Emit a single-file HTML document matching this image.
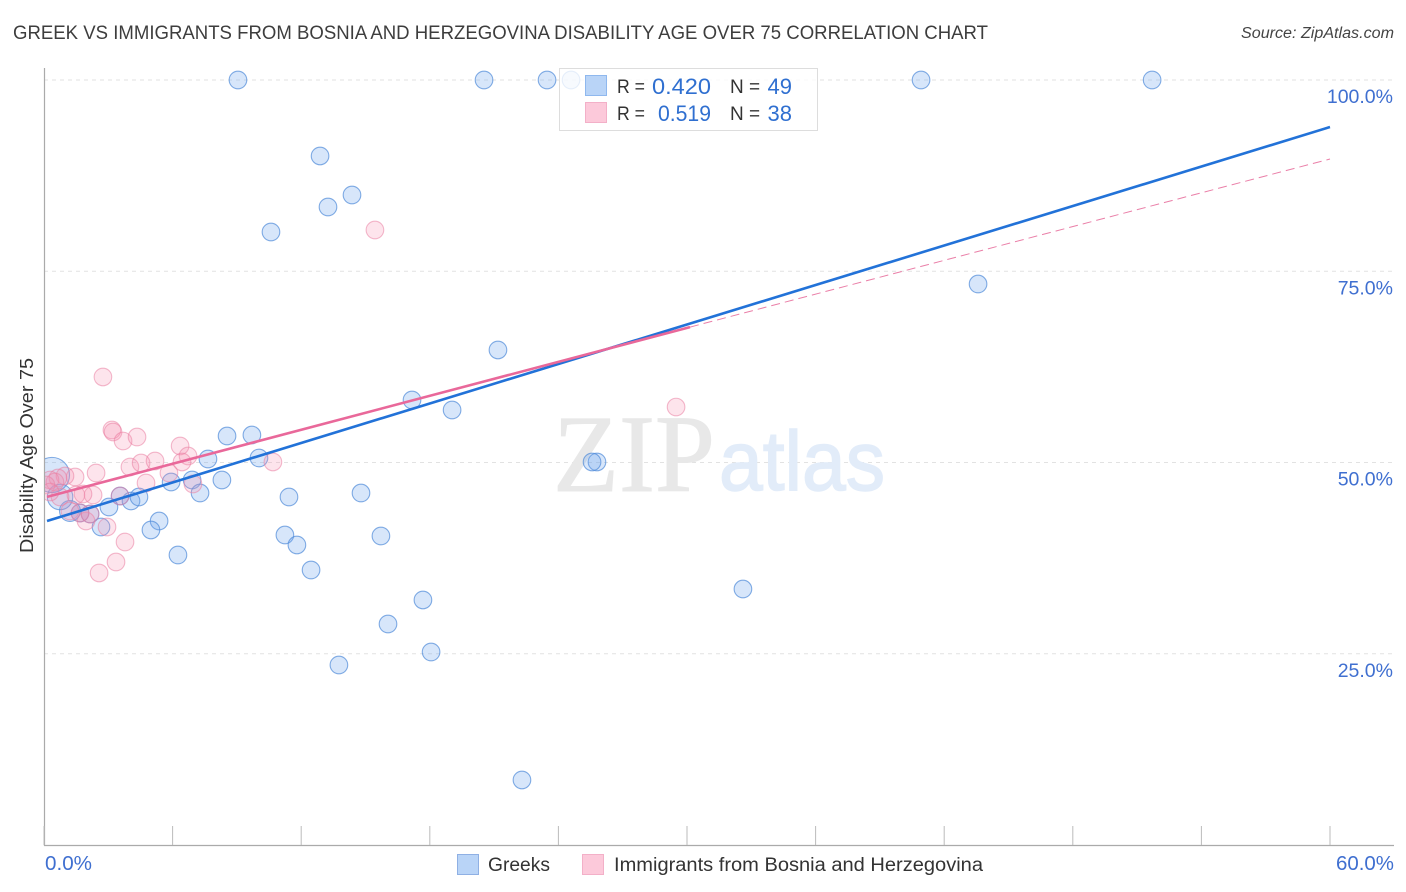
<!DOCTYPE html>
<html>
<head>
<meta charset="utf-8">
<style>
html,body{margin:0;padding:0;background:#fff;width:1406px;height:892px;overflow:hidden}
svg{display:block;font-family:"Liberation Sans",sans-serif}
</style>
</head>
<body>
<svg id="chart" width="1406" height="892" viewBox="0 0 1406 892" xmlns="http://www.w3.org/2000/svg">
  <defs>
    <clipPath id="plot-clip"><rect x="45" y="60" width="1349" height="786"/></clipPath>
  </defs>
  <text x="13" y="39" font-size="19.5" fill="#3d3d3d" textLength="975" lengthAdjust="spacingAndGlyphs">GREEK VS IMMIGRANTS FROM BOSNIA AND HERZEGOVINA DISABILITY AGE OVER 75 CORRELATION CHART</text>
  <text x="1241" y="38" font-size="15.5" font-style="italic" fill="#444" textLength="153" lengthAdjust="spacingAndGlyphs">Source: ZipAtlas.com</text>
  <g id="grid"></g>
  <g>
    <text x="553" y="491" font-size="110" fill="#e8e8e8" stroke="#e8e8e8" stroke-width="1" style="font-family:'Liberation Serif',serif" textLength="162" lengthAdjust="spacingAndGlyphs">ZIP</text>
    <text x="719" y="490" font-size="84" fill="#e2ecf9" stroke="#e2ecf9" stroke-width="1.5" textLength="166" lengthAdjust="spacingAndGlyphs">atlas</text>
  </g>
  <g id="axes"></g>
  <g id="points-blue" clip-path="url(#plot-clip)"></g>
  <g id="points-pink" clip-path="url(#plot-clip)"></g>
  <g id="fits"></g>
  <text transform="translate(33,553) rotate(-90)" font-size="18.5" fill="#333" textLength="195" lengthAdjust="spacingAndGlyphs">Disability Age Over 75</text>
  <g id="y-labels"></g>
  <text x="45" y="870" font-size="20" fill="#3f6fd0" textLength="47" lengthAdjust="spacingAndGlyphs">0.0%</text>
  <text x="1336" y="870" font-size="20" fill="#3f6fd0" textLength="58" lengthAdjust="spacingAndGlyphs">60.0%</text>

  <g>
    <rect x="559.5" y="68.5" width="258" height="62" fill="#fff" fill-opacity="0.8" stroke="#ddd"/>
    <rect x="585.5" y="75.5" width="21" height="20" fill="#b9d4f7" stroke="#8fb8ee"/>
    <rect x="585.5" y="102.5" width="21" height="20" fill="#fcc9da" stroke="#f3b0c8"/>
    <text x="617" y="93" font-size="19" fill="#333" textLength="28" lengthAdjust="spacingAndGlyphs">R =</text>
    <text x="652" y="94" font-size="22" fill="#2f6fd0" textLength="59" lengthAdjust="spacingAndGlyphs">0.420</text>
    <text x="730" y="93" font-size="19" fill="#333">N =</text>
    <text x="792" y="94" font-size="22" fill="#2f6fd0" text-anchor="end">49</text>
    <text x="617" y="120" font-size="19" fill="#333" textLength="28" lengthAdjust="spacingAndGlyphs">R =</text>
    <text x="658" y="121" font-size="22" fill="#2f6fd0" textLength="53" lengthAdjust="spacingAndGlyphs">0.519</text>
    <text x="730" y="120" font-size="19" fill="#333">N =</text>
    <text x="792" y="121" font-size="22" fill="#2f6fd0" text-anchor="end">38</text>
  </g>

  <g>
    <rect x="457.5" y="854.5" width="21" height="20" fill="#b9d4f7" stroke="#8fb0e4"/>
    <text x="488" y="871" font-size="19" fill="#333" textLength="62" lengthAdjust="spacingAndGlyphs">Greeks</text>
    <rect x="582.5" y="854.5" width="21" height="20" fill="#fcc9da" stroke="#f3b0c8"/>
    <text x="614" y="871" font-size="19" fill="#333" textLength="369" lengthAdjust="spacingAndGlyphs">Immigrants from Bosnia and Herzegovina</text>
  </g>
</svg>
<script>
const greeksX = [9.05,20.53,23.47,24.59,40.92,51.70,12.88,13.25,14.37,10.59,43.58,21.18,17.17,19.04,8.54,9.70,10.03,7.65,25.80,25.57,5.93,8.30,6.91,7.28,3.55,4.06,4.43,3.03,11.43,14.79,5.37,4.99,2.66,2.15,1.68,1.21,0.75,0.37,6.25,11.24,11.80,15.72,12.46,17.68,16.05,18.06,13.76,32.61,22.30];
const greeksY = [100,100,100,100,100,100,90.07,83.40,84.97,80.13,73.33,64.71,58.17,56.86,53.46,53.59,50.59,50.46,50.07,50.07,47.45,47.71,47.71,46.01,45.62,44.97,45.49,44.18,45.49,46.01,42.35,41.18,41.57,43.27,43.40,43.66,45.49,48.37,37.91,40.52,39.22,40.39,35.95,32.03,28.89,25.23,23.53,33.46,8.50];
const greeksWeight = [1,1,1,1,1,1,1,1,1,1,1,1,1,1,1,1,1,1,1,1,1,1,1,1,1,1,1,1,1,1,1,1,1,1,1,1.4,2.1,4,1,1,1,1,1,1,1,1,1,1,1];
const immigrantsX = [15.44,2.75,29.49,3.17,3.22,3.69,4.34,4.01,4.53,5.18,6.35,6.72,6.44,5.83,4.76,6.95,10.68,2.43,1.45,0.98,0.65,0.28,0.51,0.09,2.29,1.49,1.82,0.75,0.28,3.55,2.94,1.96,3.78,3.36,2.57,1.68,2.15,1.21];
const immigrantsY = [80.39,61.18,57.25,54.25,53.99,52.81,53.33,49.41,49.93,50.20,52.16,50.85,50.07,48.63,47.32,47.19,50.07,48.63,48.10,48.24,47.97,47.71,47.45,47.06,45.75,45.75,45.88,45.49,46.14,45.62,41.57,42.35,39.61,36.99,35.56,43.40,43.27,43.66];
const yTickValues = [25,50,75,100];
const yTickLabels = ["25.0%","50.0%","75.0%","100.0%"];
const xTickValues = [0,6,12,18,24,30,36,42,48,54,60];
const greeksFitX = [0.14,60];
const greeksFitY = [42.35,93.85];
const immigrantsFitX = [0.14,30.14];
const immigrantsFitY = [45.5,67.7];
const immigrantsFitExtX = [30.14,60];
const immigrantsFitExtY = [67.7,89.67];

const NS = 'http://www.w3.org/2000/svg';
function sx(v){ return 44 + v * (1330 - 44) / 60; }
function sy(v){ return 845 - v * 7.65; }
function mk(tag, parent, attrs){
  const el = document.createElementNS(NS, tag);
  for (const k in attrs) el.setAttribute(k, attrs[k]);
  document.getElementById(parent).appendChild(el);
  return el;
}

yTickValues.forEach(function(v, i){
  const g = mk('line', 'grid', {x1:44, x2:1394, y1:sy(v), y2:sy(v), stroke:'#e2e2e2', 'stroke-width':1, 'stroke-dasharray':'4 4'});
  
  
  const t = mk('text', 'y-labels', {x:1393, y:sy(v) + 23, 'font-size':19.5, fill:'#3f6fd0', 'text-anchor':'end'});
  t.textContent = yTickLabels[i];
  
  
});

const yAxis = mk('line', 'axes', {x1:44.5, x2:44.5, y1:68, y2:846, stroke:'#aaa', 'stroke-width':1.2});


const xAxis = mk('line', 'axes', {x1:44, x2:1394, y1:845.5, y2:845.5, stroke:'#aaa', 'stroke-width':1.2});


xTickValues.forEach(function(v){
  const tk = mk('line', 'axes', {x1:sx(v), x2:sx(v), y1:826, y2:845, stroke:'#bbb', 'stroke-width':1});
  
  
});

greeksX.forEach(function(v, i){
  const c = mk('circle', 'points-blue', {cx:sx(v), cy:sy(greeksY[i]), r:8.8 * Math.sqrt(greeksWeight[i]), fill:'#6ea6ee', 'fill-opacity':0.28, stroke:'#4f8ad8', 'stroke-opacity':0.7, 'stroke-width':1.1});
  
  
});
immigrantsX.forEach(function(v, i){
  const c = mk('circle', 'points-pink', {cx:sx(v), cy:sy(immigrantsY[i]), r:8.8, fill:'#f58fb0', 'fill-opacity':0.24, stroke:'#ea7fa3', 'stroke-opacity':0.55, 'stroke-width':1.1});
  
  
});

const fitB = mk('line', 'fits', {x1:sx(greeksFitX[0]), y1:sy(greeksFitY[0]), x2:sx(greeksFitX[1]), y2:sy(greeksFitY[1]), stroke:'#2272d8', 'stroke-width':2.6});


const fitP = mk('line', 'fits', {x1:sx(immigrantsFitX[0]), y1:sy(immigrantsFitY[0]), x2:sx(immigrantsFitX[1]), y2:sy(immigrantsFitY[1]), stroke:'#e9689a', 'stroke-width':2.6});


const fitE = mk('line', 'fits', {x1:sx(immigrantsFitExtX[0]), y1:sy(immigrantsFitExtY[0]), x2:sx(immigrantsFitExtX[1]), y2:sy(immigrantsFitExtY[1]), stroke:'#ea7fa8', 'stroke-width':1, 'stroke-dasharray':'9 5'});


</script>
</body>
</html>
